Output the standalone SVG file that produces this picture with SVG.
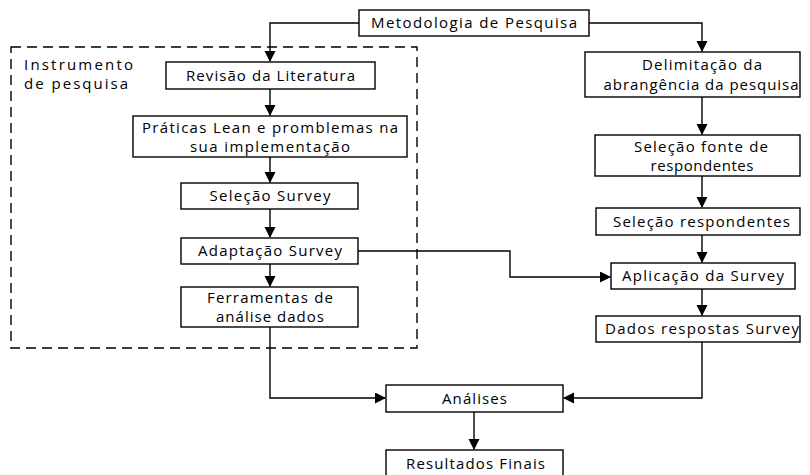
<svg xmlns="http://www.w3.org/2000/svg" width="810" height="475" viewBox="0 0 810 475">
<style>
.box{fill:#fff;stroke:#000;stroke-width:1.4}
.t{font-family:"Open Sans","Liberation Sans",sans-serif;font-size:15px;fill:#000;text-anchor:middle}
.tl{font-family:"Open Sans","Liberation Sans",sans-serif;font-size:15px;fill:#000}
.c{fill:none;stroke:#000;stroke-width:1.4}
</style>
<defs>
<marker id="ah" markerUnits="userSpaceOnUse" markerWidth="12" markerHeight="12" refX="10" refY="5.5" orient="auto">
<path d="M0,0 L11,5.5 L0,11 Z" fill="#000"/>
</marker>
</defs>
<rect x="0" y="0" width="810" height="475" fill="#fff"/>
<g id="instrumento-group">
<rect x="11" y="47" width="406" height="301" fill="none" stroke="#000" stroke-width="1.4" stroke-dasharray="10,6"/>
<text class="tl"><tspan x="24" y="70" textLength="109" lengthAdjust="spacing">Instrumento</tspan><tspan x="24" y="89" textLength="104" lengthAdjust="spacing">de pesquisa</tspan></text>
</g>
<g id="connectors">
<path class="c" d="M359,23 H270 V61" marker-end="url(#ah)"/>
<path class="c" d="M589,23 H702 V51" marker-end="url(#ah)"/>
<path class="c" d="M270,89 V115" marker-end="url(#ah)"/>
<path class="c" d="M270,157 V182" marker-end="url(#ah)"/>
<path class="c" d="M270,209 V237" marker-end="url(#ah)"/>
<path class="c" d="M270,264 V286" marker-end="url(#ah)"/>
<path class="c" d="M358,251 H510 V277 H610" marker-end="url(#ah)"/>
<path class="c" d="M270,327 V398 H385" marker-end="url(#ah)"/>
<path class="c" d="M702,342 V398 H564" marker-end="url(#ah)"/>
<path class="c" d="M474,412 V449" marker-end="url(#ah)"/>
<path class="c" d="M702,97 V134" marker-end="url(#ah)"/>
<path class="c" d="M702,176 V207" marker-end="url(#ah)"/>
<path class="c" d="M702,235 V262" marker-end="url(#ah)"/>
<path class="c" d="M702,289 V315" marker-end="url(#ah)"/>
</g>
<g id="metodologia">
<rect class="box" x="359" y="10" width="230" height="26"/>
<text class="t" x="474" y="28" textLength="206" lengthAdjust="spacing">Metodologia de Pesquisa</text>
</g>
<g id="revisao">
<rect class="box" x="166" y="62" width="209" height="27"/>
<text class="t" x="270.5" y="80.5" textLength="169" lengthAdjust="spacing">Revisão da Literatura</text>
</g>
<g id="praticas">
<rect class="box" x="133" y="116" width="274" height="41"/>
<text class="t"><tspan x="270" y="133" textLength="256" lengthAdjust="spacing">Práticas Lean e promblemas na</tspan><tspan x="270" y="152" textLength="160" lengthAdjust="spacing">sua implementação</tspan></text>
</g>
<g id="selecao-survey">
<rect class="box" x="181" y="183" width="177" height="26"/>
<text class="t" x="270" y="201" textLength="121" lengthAdjust="spacing">Seleção Survey</text>
</g>
<g id="adaptacao-survey">
<rect class="box" x="181" y="238" width="177" height="26"/>
<text class="t" x="270" y="256" textLength="144" lengthAdjust="spacing">Adaptação Survey</text>
</g>
<g id="ferramentas">
<rect class="box" x="181" y="287" width="177" height="40"/>
<text class="t"><tspan x="270" y="303" textLength="126" lengthAdjust="spacing">Ferramentas de</tspan><tspan x="270" y="322" textLength="108" lengthAdjust="spacing">análise dados</tspan></text>
</g>
<g id="delimitacao">
<rect class="box" x="585" y="52" width="215" height="45"/>
<text class="t"><tspan x="702" y="70" textLength="120" lengthAdjust="spacing">Delimitação da</tspan><tspan x="701" y="90" textLength="195" lengthAdjust="spacing">abrangência da pesquisa</tspan></text>
</g>
<g id="selecao-fonte">
<rect class="box" x="595" y="135" width="205" height="41"/>
<text class="t"><tspan x="701" y="152" textLength="134" lengthAdjust="spacing">Seleção fonte de</tspan><tspan x="702" y="171" textLength="103" lengthAdjust="spacing">respondentes</tspan></text>
</g>
<g id="selecao-respondentes">
<rect class="box" x="596" y="208" width="204" height="27"/>
<text class="t" x="701.5" y="226.5" textLength="177" lengthAdjust="spacing">Seleção respondentes</text>
</g>
<g id="aplicacao">
<rect class="box" x="611" y="263" width="184" height="26"/>
<text class="t" x="703" y="281" textLength="162" lengthAdjust="spacing">Aplicação da Survey</text>
</g>
<g id="dados-respostas">
<rect class="box" x="596" y="316" width="204" height="26"/>
<text class="t" x="702" y="334" textLength="194" lengthAdjust="spacing">Dados respostas Survey</text>
</g>
<g id="analises">
<rect class="box" x="386" y="385" width="177" height="27"/>
<text class="t" x="474.5" y="403.5" textLength="65" lengthAdjust="spacing">Análises</text>
</g>
<g id="resultados">
<rect class="box" x="386" y="450" width="177" height="30"/>
<text class="t" x="475.5" y="469" textLength="139" lengthAdjust="spacing">Resultados Finais</text>
</g>
</svg>
